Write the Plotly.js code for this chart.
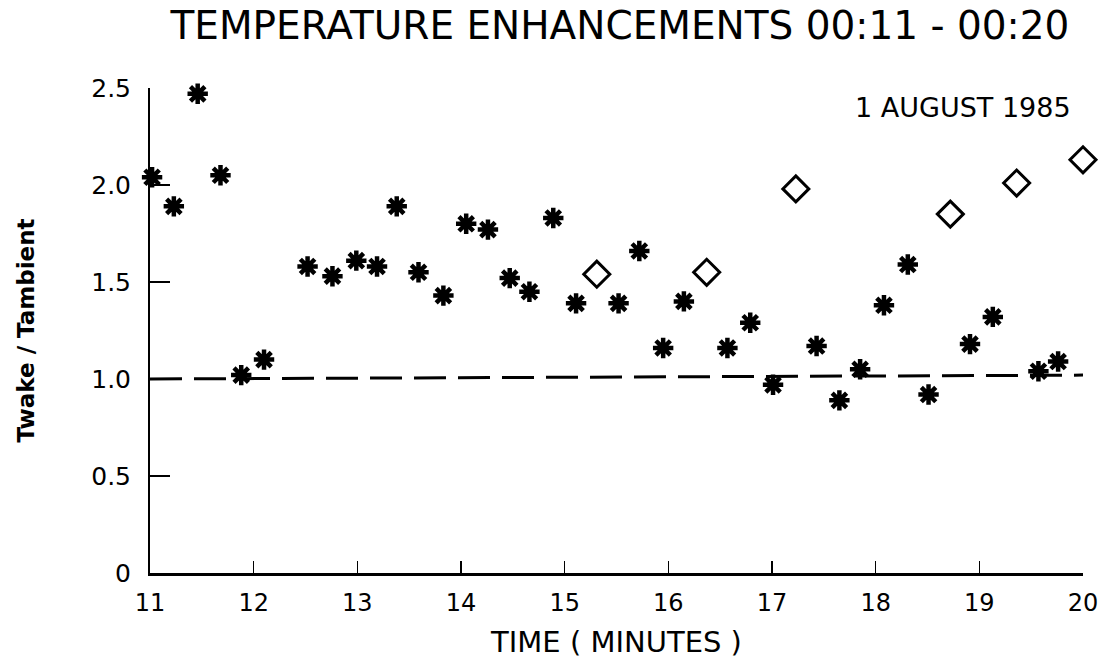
<!DOCTYPE html>
<html>
<head>
<meta charset="utf-8">
<script src="https://cdn.plot.ly/plotly-3.0.1.min.js"></script>
<style>
html,body{margin:0;padding:0;background:#fff;}
#chart{width:1113px;height:664px;}
</style>
</head>
<body>
<div id="chart"></div>
<script>
// Asterisk (filled) measurements
const starTime = [11.02,11.23,11.46,11.68,11.88,12.10,12.52,12.76,12.99,13.19,13.38,13.59,13.83,14.05,14.26,14.47,14.66,14.89,15.11,15.52,15.72,15.95,16.15,16.57,16.79,17.01,17.43,17.65,17.85,18.08,18.31,18.51,18.91,19.13,19.57,19.76];
const starRatio = [2.04,1.89,2.47,2.05,1.02,1.10,1.58,1.53,1.61,1.58,1.89,1.55,1.43,1.80,1.77,1.52,1.45,1.83,1.39,1.39,1.66,1.16,1.40,1.16,1.29,0.97,1.17,0.89,1.05,1.38,1.59,0.92,1.18,1.32,1.04,1.09];
// Open diamond measurements
const diamondTime = [15.31,16.37,17.23,18.72,19.36,20.0];
const diamondRatio = [1.54,1.55,1.98,1.85,2.01,2.13];
// Reference (dashed) line
const refTime = [11,20];
const refRatio = [1.0,1.02];
// Tick labels
const yTickVals = [0,0.5,1.0,1.5,2.0,2.5];
const yTickText = ["0","0.5","1.0","1.5","2.0","2.5"];
const xTickVals = [11,12,13,14,15,16,17,18,19,20];
const xTickText = ["11","12","13","14","15","16","17","18","19","20"];

const FONT = "DejaVu Sans, sans-serif";

const traces = [
  {x: refTime, y: refRatio, mode: "lines", type: "scatter",
   line: {color: "#000", width: 3, dash: "32px,12px"}, hoverinfo: "skip", cliponaxis: false},
  {x: starTime, y: starRatio, mode: "markers", type: "scatter", cliponaxis: false,
   marker: {symbol: "circle", size: 11, color: "#000"}},
  {x: starTime, y: starRatio, mode: "markers", type: "scatter", cliponaxis: false,
   marker: {symbol: "asterisk", size: 17, color: "#000", line: {color: "#000", width: 4.5}}},
  {x: diamondTime, y: diamondRatio, mode: "markers", type: "scatter", cliponaxis: false,
   marker: {symbol: "diamond-open", size: 20, color: "#000", line: {color: "#000", width: 3}}}
];

const layout = {
  width: 1113, height: 664,
  paper_bgcolor: "#fff", plot_bgcolor: "#fff",
  showlegend: false,
  margin: {l: 150, r: 30, t: 88, b: 91},
  title: {text: "TEMPERATURE ENHANCEMENTS 00:11 - 00:20",
          font: {family: FONT, size: 39, color: "#000"},
          xref: "container", x: 0.557, xanchor: "center",
          yref: "container", y: 0.962, yanchor: "middle"},
  xaxis: {range: [11, 20], showgrid: false, zeroline: false,
          showline: true, linecolor: "#000", linewidth: 3,
          ticks: "inside", ticklen: 12, tickwidth: 1.5, tickcolor: "#000",
          tickvals: xTickVals, ticktext: xTickText, ticklabelstandoff: 6,
          tickfont: {family: FONT, size: 24, color: "#000"},
          automargin: false,
          title: {text: "TIME ( MINUTES )", font: {family: FONT, size: 29, color: "#000"}, standoff: 16}},
  yaxis: {range: [0, 2.5], showgrid: false, zeroline: false,
          showline: true, linecolor: "#000", linewidth: 2,
          ticks: "inside", ticklen: 20, tickwidth: 2.5, tickcolor: "#000",
          tickvals: yTickVals, ticktext: yTickText, ticklabelstandoff: 12,
          tickfont: {family: FONT, size: 25, color: "#000"},
          automargin: false,
          title: {text: "<b>Twake / Tambient</b>", font: {family: FONT, size: 23, color: "#000"}, standoff: 50}},
  annotations: [
    {text: "1 AUGUST 1985", xref: "paper", yref: "paper", x: 0.989, y: 0.96,
     xanchor: "right", yanchor: "middle", showarrow: false,
     font: {family: FONT, size: 27, color: "#000"}}
  ]
};

Plotly.newPlot("chart", traces, layout, {displayModeBar: false, staticPlot: true});
</script>
</body>
</html>
